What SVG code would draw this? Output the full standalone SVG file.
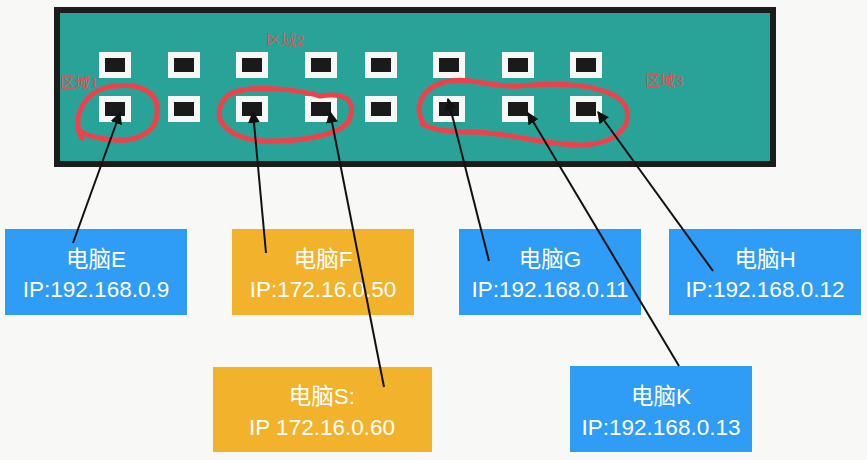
<svg xmlns="http://www.w3.org/2000/svg" width="867" height="460" viewBox="0 0 867 460">
<defs>
<style>
.port-o{fill:#f7f7f5}
.port-i{fill:#1a1a1a}
.box-b{fill:#2f9df5}
.box-o{fill:#f3b22c}
.t{font-family:"Liberation Sans","Noto Sans CJK SC",sans-serif;font-size:22.5px;fill:#ffffff;text-anchor:middle}
.zone{font-family:"Liberation Sans","Noto Sans CJK SC",sans-serif;font-size:15px;fill:#d95356}
.ring{fill:none;stroke:#f0414b;stroke-width:5;stroke-linecap:round;stroke-linejoin:round}
.conn{stroke:#111;stroke-width:2;fill:none;marker-end:url(#ah)}
</style>
<marker id="ah" viewBox="0 0 10 10" refX="9" refY="5" markerWidth="6" markerHeight="6" orient="auto" markerUnits="strokeWidth">
<path d="M0,0 L10,5 L0,10 z" fill="#111"/>
</marker>
<g id="port">
<rect class="port-o" x="0" y="0" width="32" height="26"/>
<rect class="port-i" x="6" y="6" width="20" height="14"/>
</g>
</defs>
<rect x="0" y="0" width="867" height="460" fill="#f8f8f6"/>
<g id="switch">
<rect x="57" y="10" width="716" height="154" fill="#29a397" stroke="#1c1c1c" stroke-width="6"/>
<use href="#port" x="99" y="52"/><use href="#port" x="168" y="52"/><use href="#port" x="236" y="52"/><use href="#port" x="305" y="52"/>
<use href="#port" x="365" y="52"/><use href="#port" x="433" y="52"/><use href="#port" x="502" y="52"/><use href="#port" x="570" y="52"/>
<use href="#port" x="99" y="96"/><use href="#port" x="168" y="96"/><use href="#port" x="236" y="96"/><use href="#port" x="305" y="96"/>
<use href="#port" x="365" y="96"/><use href="#port" x="433" y="96"/><use href="#port" x="502" y="96"/><use href="#port" x="570" y="96"/>
</g>
<g id="zones">
<text class="zone" x="60" y="88">区域1</text>
<text class="zone" x="266" y="45">区域2</text>
<text class="zone" x="645" y="86">区域3</text>
<path class="ring" d="M82 138 C70 118, 85 88, 115 86 C145 83, 160 95, 157 115 C155 135, 130 145, 100 138 C90 136, 80 134, 78 128"/>
<path class="ring" d="M232 93 C255 84, 300 90, 320 96 C345 92, 356 100, 350 118 C345 135, 300 142, 265 141 C235 140, 215 125, 220 108 C222 100, 226 96, 232 93"/>
<path class="ring" d="M425 125 C413 110, 420 88, 445 82 C470 76, 490 88, 520 86 C560 82, 610 84, 625 105 C635 125, 615 145, 580 145 C540 145, 510 132, 470 132 C440 132, 430 128, 422 124"/>
</g>
<g id="pcE">
<rect class="box-b" x="5" y="229" width="182" height="86"/>
<text class="t" x="96" y="267">电脑E</text>
<text class="t" x="96" y="297">IP:192.168.0.9</text>
</g>
<g id="pcF">
<rect class="box-o" x="232" y="229" width="182" height="86"/>
<text class="t" x="323" y="267">电脑F</text>
<text class="t" x="323" y="297">IP:172.16.0.50</text>
</g>
<g id="pcG">
<rect class="box-b" x="459" y="229" width="182" height="86"/>
<text class="t" x="550" y="267">电脑G</text>
<text class="t" x="550" y="297">IP:192.168.0.11</text>
</g>
<g id="pcH">
<rect class="box-b" x="669" y="229" width="192" height="86"/>
<text class="t" x="765" y="267">电脑H</text>
<text class="t" x="765" y="297">IP:192.168.0.12</text>
</g>
<g id="pcS">
<rect class="box-o" x="213" y="367" width="219" height="85"/>
<text class="t" x="322" y="404">电脑S:</text>
<text class="t" x="322" y="435">IP 172.16.0.60</text>
</g>
<g id="pcK">
<rect class="box-b" x="570" y="366" width="182" height="86"/>
<text class="t" x="661" y="404">电脑K</text>
<text class="t" x="661" y="435">IP:192.168.0.13</text>
</g>
<g id="connectors">
<line class="conn" x1="73" y1="243" x2="120" y2="113"/>
<line class="conn" x1="266" y1="253" x2="253" y2="112"/>
<line class="conn" x1="384" y1="387" x2="330" y2="112"/>
<line class="conn" x1="489" y1="261" x2="448" y2="99"/>
<line class="conn" x1="679" y1="366" x2="528" y2="113"/>
<line class="conn" x1="713" y1="271" x2="598" y2="112"/>
</g>
</svg>
